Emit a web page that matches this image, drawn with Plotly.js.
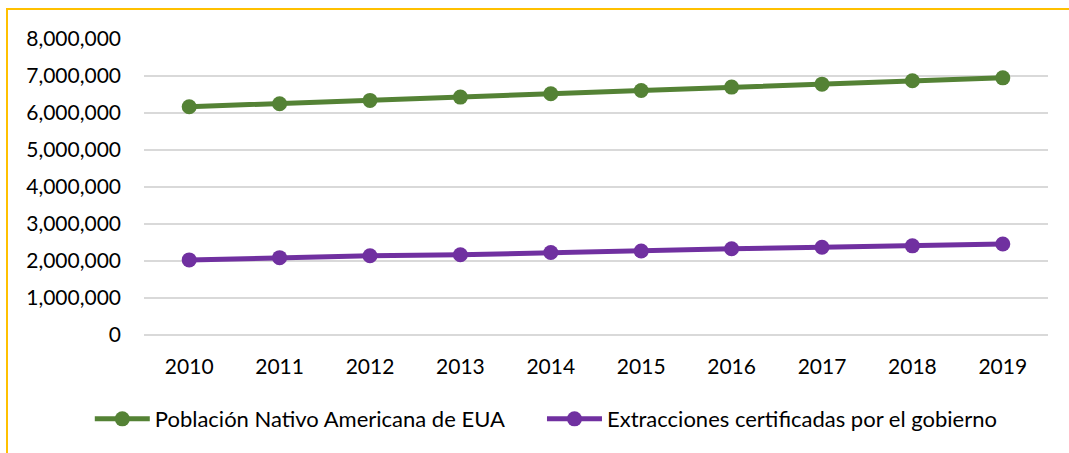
<!DOCTYPE html>
<html>
<head>
<meta charset="utf-8">
<script src="https://cdn.plot.ly/plotly-3.0.1.min.js"></script>
<style>
  html, body { margin: 0; padding: 0; background: #fff; }
  #wrap { position: relative; width: 1069px; height: 453px; overflow: hidden; }
  #frame { position: absolute; left: 6px; top: 8px; width: 1080px; height: 460px;
           border-top: 2px solid #FFC000; border-left: 2px solid #FFC000; pointer-events: none; z-index: 5; }
  #chart { position: absolute; left: 0; top: 0; width: 1069px; height: 453px; }
</style>
</head>
<body>
<div id="wrap">
  <div id="chart"></div>
  <div id="frame"></div>
</div>
<script>
const years = ['2010','2011','2012','2013','2014','2015','2016','2017','2018','2019'];
const poblacion = [6170000, 6250000, 6340000, 6430000, 6520000, 6610000, 6700000, 6780000, 6870000, 6950000];
const extracciones = [2030000, 2090000, 2140000, 2170000, 2230000, 2270000, 2330000, 2370000, 2410000, 2460000];
const seriesNames = ['Población Nativo Americana de EUA', 'Extracciones certificadas por el gobierno'];

const font = 'Lato, "Open Sans", "Liberation Sans", sans-serif';

const traces = [
  { x: years, y: poblacion, name: seriesNames[0], type: 'scatter', mode: 'lines+markers', legend: 'legend',
    line: { color: '#548235', width: 5 }, marker: { color: '#548235', size: 15 } },
  { x: years, y: extracciones, name: seriesNames[1], type: 'scatter', mode: 'lines+markers', legend: 'legend2',
    line: { color: '#7030A0', width: 5 }, marker: { color: '#7030A0', size: 15 } }
];

const legendBase = { orientation: 'h', xref: 'container', yref: 'container', xanchor: 'left',
                     y: 0.075, yanchor: 'middle', itemwidth: 55, font: { size: 22 } };

const layout = {
  width: 1069, height: 453,
  margin: { l: 144, r: 21, t: 39, b: 118 },
  paper_bgcolor: '#fff', plot_bgcolor: '#fff',
  font: { family: font, size: 21, color: '#000' },
  showlegend: true,
  xaxis: { type: 'category', range: [-0.5, 9.5], showgrid: false, zeroline: false,
           showline: false, ticks: '', ticklabelstandoff: 17, tickfont: { size: 21 } },
  yaxis: { range: [0, 8000000], dtick: 1000000, tickformat: ',d', showgrid: true,
           gridcolor: '#d9d9d9', gridwidth: 1.5, zeroline: true, zerolinecolor: '#d9d9d9', zerolinewidth: 1.5,
           showline: false, ticks: '', ticklabelstandoff: 22, tickfont: { size: 21 } },
  legend: Object.assign({}, legendBase, { x: 0.084 }),
  legend2: Object.assign({}, legendBase, { x: 0.507 })
};

Plotly.newPlot('chart', traces, layout, { displayModeBar: false, staticPlot: true });
</script>
</body>
</html>
